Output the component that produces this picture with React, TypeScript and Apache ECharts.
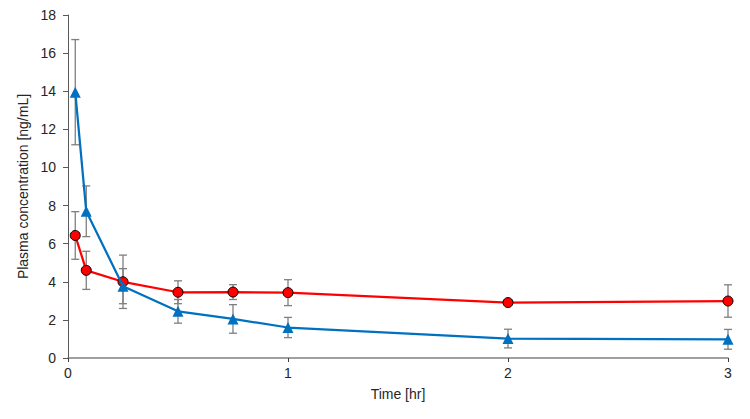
import React, { useEffect, useRef } from "react";
import * as echarts from "echarts";

// Sampling times (hr)
const times = [0.033, 0.083, 0.25, 0.5, 0.75, 1, 2, 3];
// Mean plasma concentration (ng/mL) and SD for each formulation
const redMeans = [6.43, 4.6, 4.0, 3.45, 3.46, 3.43, 2.91, 2.99];
const redSD = [1.25, 1.0, 1.4, 0.6, 0.39, 0.68, 0.15, 0.85];
const blueMeans = [13.95, 7.7, 3.77, 2.45, 2.05, 1.6, 1.02, 0.98];
const blueSD = [2.76, 1.33, 0.92, 0.62, 0.75, 0.53, 0.49, 0.52];

const yTicks = [0, 2, 4, 6, 8, 10, 12, 14, 16, 18];
const xTicks = [0, 1, 2, 3];

const RED = "#FF0000";
const BLUE = "#0070C0";
const ERR = "#7F7F7F";

function errorSeries(means: number[], sd: number[]) {
  return {
    type: "custom",
    silent: true,
    z: 1,
    encode: { x: 0, y: 1 },
    data: times.map((t, i) => [t, means[i], sd[i]]),
    renderItem: (_params: any, api: any) => {
      const x = api.value(0);
      const y = api.value(1);
      const e = api.value(2);
      const top = api.coord([x, y + e]);
      const bot = api.coord([x, y - e]);
      const hw = 4;
      const style = { stroke: ERR, lineWidth: 1.3 };
      return {
        type: "group",
        children: [
          { type: "line", shape: { x1: top[0], y1: top[1], x2: bot[0], y2: bot[1] }, style },
          { type: "line", shape: { x1: top[0] - hw, y1: top[1], x2: top[0] + hw, y2: top[1] }, style },
          { type: "line", shape: { x1: bot[0] - hw, y1: bot[1], x2: bot[0] + hw, y2: bot[1] }, style },
        ],
      };
    },
  };
}

export default function App() {
  const ref = useRef<HTMLDivElement>(null);

  useEffect(() => {
    document.body.style.margin = "0";
    if (!ref.current) return;
    const chart = echarts.init(ref.current, undefined, { renderer: "svg" });
    const font = "'Liberation Sans', Arial, sans-serif";
    chart.setOption({
      animation: false,
      backgroundColor: "#ffffff",
      textStyle: { fontFamily: font },
      grid: { left: 68, right: 22, top: 15, bottom: 61, outerBoundsMode: "none" },
      xAxis: {
        type: "value",
        min: xTicks[0],
        max: xTicks[xTicks.length - 1],
        interval: 1,
        name: "Time [hr]",
        nameLocation: "middle",
        nameGap: 36,
        nameTextStyle: { fontSize: 14, color: "#262626", fontFamily: font, verticalAlign: "middle" },
        axisLine: { show: true, lineStyle: { color: "#808080", width: 1.5 } },
        axisTick: { show: true, inside: false, length: 4, lineStyle: { color: "#404040" } },
        axisLabel: { fontSize: 14, color: "#262626", margin: 8, fontFamily: font },
        splitLine: { show: false },
      },
      yAxis: {
        type: "value",
        min: yTicks[0],
        max: yTicks[yTicks.length - 1],
        interval: 2,
        name: "Plasma concentration [ng/mL]",
        nameLocation: "middle",
        nameGap: 35,
        nameTextStyle: { fontSize: 14, color: "#262626", fontFamily: font, verticalAlign: "middle" },
        axisLine: { show: true, lineStyle: { color: "#595959", width: 1 } },
        axisTick: { show: true, inside: false, length: 5, lineStyle: { color: "#595959" } },
        axisLabel: { fontSize: 14, color: "#262626", margin: 12, fontFamily: font },
        splitLine: { show: false },
      },
      series: [
        errorSeries(blueMeans, blueSD),
        errorSeries(redMeans, redSD),
        {
          type: "line",
          name: "red",
          z: 3,
          data: times.map((t, i) => [t, redMeans[i]]),
          symbol: "circle",
          symbolSize: 10,
          showAllSymbol: true,
          lineStyle: { color: RED, width: 2.25 },
          itemStyle: { color: RED, borderColor: "#000000", borderWidth: 1 },
        },
        {
          type: "line",
          name: "blue",
          z: 4,
          data: times.map((t, i) => [t, blueMeans[i]]),
          symbol: "triangle",
          symbolSize: 11,
          showAllSymbol: true,
          lineStyle: { color: BLUE, width: 2.25 },
          itemStyle: { color: BLUE, borderColor: BLUE, borderWidth: 0 },
        },
      ],
    });
    return () => chart.dispose();
  }, []);

  return <div ref={ref} style={{ width: 750, height: 419 }} />;
}
